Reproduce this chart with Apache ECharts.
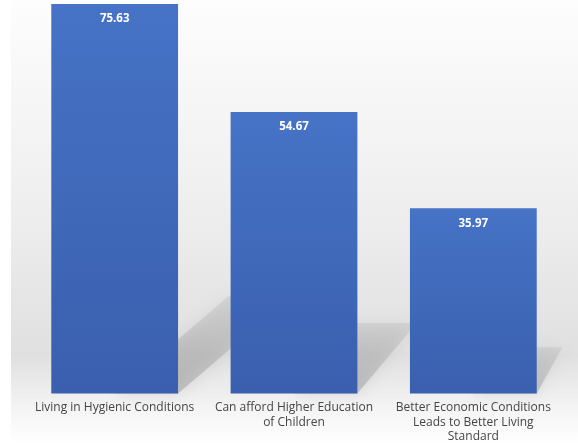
<!DOCTYPE html>
<html><head><meta charset="utf-8">
<script src="https://cdn.jsdelivr.net/npm/echarts@6/dist/echarts.min.js"></script>
<style>html,body{margin:0;padding:0;background:#fff}#c{width:578px;height:444px}</style>
</head><body><div id="c"></div>
<script>
const categories = ['Living in Hygienic Conditions', 'Can afford Higher Education\nof Children', 'Better Economic Conditions\nLeads to Better Living\nStandard'];
const values = [75.63, 54.67, 35.97];

const chart = echarts.init(document.getElementById('c'));
chart.setOption({
  animation: false,
  backgroundColor: '#ffffff',
  graphic: [{
    type: 'rect', z: -10, silent: true,
    shape: {x: 11, y: 0, width: 567, height: 444},
    style: {fill: new echarts.graphic.LinearGradient(0, 0, 0, 1, [
      {offset: 0, color: '#fdfdfd'},
      {offset: 0.45, color: '#efefef'},
      {offset: 0.8, color: '#e0e0e0'},
      {offset: 0.92, color: '#f4f4f4'},
      {offset: 1, color: '#ffffff'}
    ])}
  }],
  grid: {left: 25, right: 15, top: 4, bottom: 49, containLabel: false},
  xAxis: {
    type: 'category', data: categories,
    axisLine: {show: false}, axisTick: {show: false},
    axisLabel: {color: '#454545', fontFamily: 'Open Sans', fontSize: 12, lineHeight: 14.5, margin: 7, interval: 0}
  },
  yAxis: {type: 'value', min: 0, max: 'dataMax', show: false, splitLine: {show: false}},
  series: [{
    type: 'custom', z: 1, silent: true,
    renderItem: function (params, api) {
      const base = api.coord([api.value(0), 0]);
      const top = api.coord([api.value(0), api.value(1)]);
      const w = api.size([1, 0])[0] * 0.707;
      const h = base[1] - top[1];
      const xc = base[0], xr = base[0] + w / 2, y0 = base[1];
      const dx = 0.00075 * h * h, dy = h * 0.25;
      return {
        type: 'polygon',
        shape: {points: [[xc, y0], [xr, y0], [xr + dx, y0 - dy], [xc + dx, y0 - dy]]},
        style: {
          fill: new echarts.graphic.LinearGradient(0, 1, 0, 0, [
            {offset: 0, color: 'rgba(110,110,110,0.32)'},
            {offset: 1, color: 'rgba(140,140,140,0.16)'}
          ]),
          shadowBlur: 16, shadowColor: 'rgba(110,110,110,0.55)'
        }
      };
    },
    data: values.map((v, i) => [i, v])
  }, {
    type: 'bar', z: 3, data: values, barWidth: '70.7%',
    itemStyle: {color: new echarts.graphic.LinearGradient(0, 0, 0, 1, [
      {offset: 0, color: '#4673c6'},
      {offset: 1, color: '#3a5fae'}
    ])},
    label: {show: true, position: 'insideTop', distance: 9, color: '#ffffff', fontWeight: 'bold', fontSize: 11.5, fontFamily: 'Open Sans'}
  }]
});
</script></body></html>
